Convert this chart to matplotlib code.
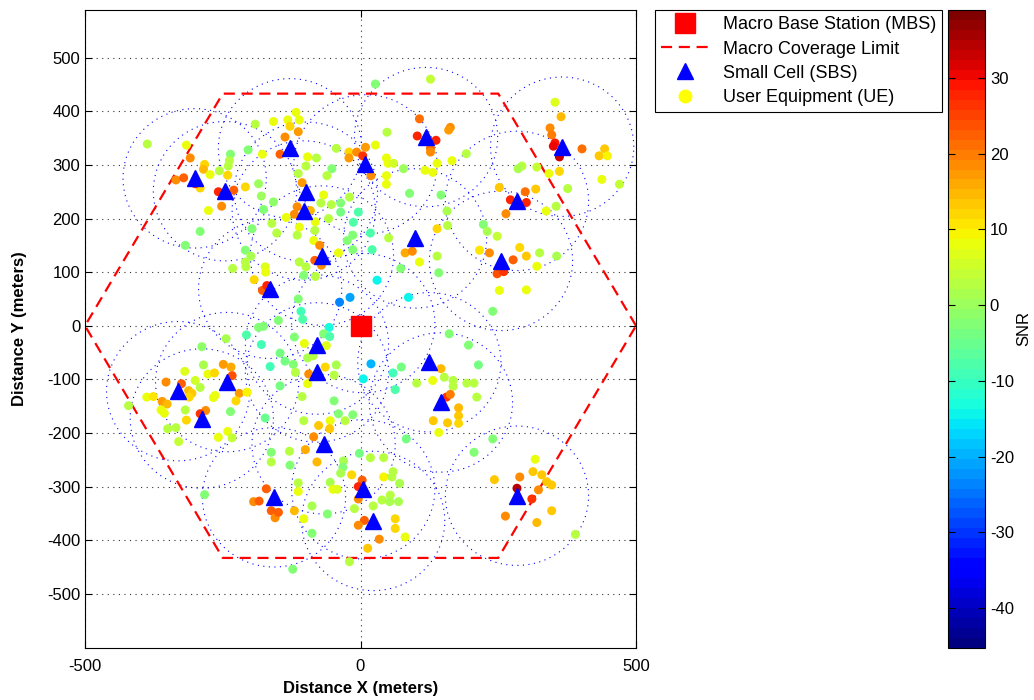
import numpy as np
import matplotlib.pyplot as plt
from matplotlib.lines import Line2D

plt.rcParams['font.family'] = ['Liberation Sans', 'DejaVu Sans']
plt.rcParams['axes.unicode_minus'] = False

# Small cell base stations (meters)
sbs_x = [-301, -246, -128, 9, 119, -99, -103, 366, 284, -164, -242, -331, -288,
         99, -70, -79, -79, 125, 146, -67, 5, 23, -157, 284, 255, 5]
sbs_y = [275, 251, 331, 301, 352, 250, 215, 334, 233, 69, -105, -122, -173,
         163, 131, -35, -87, -68, -143, -221, -305, -364, -320, -317, 121, 5]

# User equipment positions (meters) and SNR (dB)
ue_x = [-387, -316, -309, -283, -285, -273, -335, -321, -291, -300, -258, -230, -252, -276, -236, -238,
        -240, -256, -241, -209, -204, -191, -178, -185, -180, -176, -158, -291, -197, -161, -152, -158,
        27, 127, -132, -117, -111, -128, -113, -137, -146, -96, -80, -99, -44, -52, -61, -113, -106, -21,
        -21, -7, 9, 4, 27, 19, 48, 47, 50, 60, 47, 47, 78, 107, 103, 137, 127, 127, 163, 160, 139, 117,
        131, 166, 89, 146, 157, 158, -67, -72, -53, -36, -20, -36, -4, -13, -58, -82, -115, -91, -120,
        -135, -111, 139,
        353, 364, 344, 347, 353, 350, 361, 402, 443, 433, 448, 192, 293, 286, 320, 342, 361, 376, 438,
        470, 252, 299, 318, 272, 301, 264, 337, 355, 223,
        230, 248, 216, 234, 289, 301, 277, 325, 356, 320, 248, 260, 252, 301, 240, 196, 214, 193, 206,
        211, 178, 178, 178, 240,
        -318, -209, -199, -209, -208, -232, -173, -172, -193, -178, -170, -185, -176, -207, -180, -244,
        -288, -164, -285, -319, -277, -265, -249, -235, -233, -300, -291, -353, -325, -312, -306, -311,
        -264, -267, -220, -206, -226, -388, -376, -360, -351, -362, -356, -421, -318, -281, -291, -236,
        -316, -173, -350, -335, -241, -258,
        -330, -233, -162, -162, -283, -171, -194, -184, -162, -155,
        -85, 83, -100, -129, -128, -79, -2, 18, 42, -31, -32, -36, -16, 3, 42, 59, 57, 71, -55, -113,
        -113, -50, -42, -4, -4, 54, 39, 53, 69, 23, -88, -11, -149, -120, -60, -103, 7, -4, 63, 63,
        -88, 81, 34, 13, -20, -123,
        206, 317, 243, 289, 313, 329, 338, 347, 284, 323, 311, 347, 263, 320, 390,
        -115, -83, -85, -74, -83, -71, -40, -24, -14, -14, 18, 21, 51, -111, -99, -103, -82, 81, 94,
        107, 139, 142, 73, 30, -19, -38, 87, -113, -108, -105, -149, -57, -67, -56, -120, -102, -62,
        161, -146, -137, -122, -96, -86, -64, -44, -118, -94, -48, -96, -146, 19, 5, 74, 59, 63, 102,
        131, 146, 152, 168, 168, 156, 163, -106, -48, 132, 158, 142, -103, -76, -55, -40, -28, -14, -56]
ue_y = [339, 337, 313, 301, 292, 282, 272, 276, 257, 265, 250, 253, 223, 215, 320, 308,
        298, 289, 281, 259, 328, 376, 320, 265, 242, 217, 381, 176, 181, 191, 173, 231,
        451, 460, 384, 398, 384, 372, 362, 352, 320, 315, 313, 298, 331, 293, 280, 284, 267, 324,
        313, 324, 333, 317, 337, 280, 361, 313, 303, 303, 280, 264, 293, 386, 354, 346, 331, 324, 370,
        365, 303, 290, 286, 308, 247, 244, 214, 187, 244, 229, 226, 229, 240, 212, 212, 193, 200, 194,
        222, 215, 208, 202, 184, 181,
        417, 390, 369, 356, 341, 335, 315, 330, 330, 317, 317, 321, 298, 293, 296, 284, 288, 256, 273,
        264, 258, 250, 255, 235, 230, 209, 214, 223, 189,
        176, 167, 141, 136, 146, 130, 123, 136, 130, 111, 97, 101, 66, 67, 27, -36, -73, -107, -107,
        -133, -153, -168, -182, -211,
        150, 141, 130, 119, 110, 107, 110, 100, 86, 66, 75, -3, -1, -17, -35, -24,
        -39, -76, -73, -85, -90, -88, -72, -77, -93, -102, -115, -105, -108, -121, -126, -133,
        -130, -134, -126, -124, -140, -133, -132, -141, -146, -157, -163, -149, -157, -158, -164, -160,
        -176, -172, -192, -190, -197, -208,
        -216, -209, -236, -254, -315, -304, -328, -327, -345, -358,
        -207, -211, -231, -234, -260, -254, -238, -246, -246, -252, -264, -275, -278, -288, -282, -272,
        -282, -294, -292, -293, -309, -305, -305, -300, -323, -316, -325, -328, -328, -336, -336, -341,
        -348, -345, -351, -360, -363, -372, -360, -378, -387, -394, -398, -415, -440, -454,
        -236, -249, -287, -282, -272, -278, -291, -297, -303, -306, -323, -345, -355, -367, -389,
        169, 178, 159, 150, 122, 113, 136, 159, 169, 142, 173, 142, 164, 119, 110, 94, 92, 136, 139,
        119, 130, 99, 107, 85, 53, 44, 53, 50, 27, 12, 10, -3, -15, -20, -21, -33, -37,
        -15, -51, -66, -72, -60, -56, -77, -73, -87, -90, -92, -108, -112, -71, -99, -77, -88, -119, -107,
        -102, -80, -96, -102, -113, -133, -128, -132, -140, -177, -181, -199, -177, -186, -177, -164, -177,
        -166, -192]
ue_snr = [3, 8, 18, 12, 15, 8, 18, 23, 12, 28, 28, 23, 18, 8, -3, 3,
          3, 3, 12, 12, -3, 3, 8, 0, 0, -3, 8, -3, -3, 3, 3, -1,
          -3, 4, 8, 8, 8, 12, 17, 18, 23, 8, 3, 3, 3, -3, 3, 3, 17, 12,
          17, 18, 17, 27, 8, 19, 3, 8, 8, 6, 8, 8, 0, 21, 28, 28, 21, 18, 18,
          17, 8, 8, 8, 8, -3, -3, 1, 3, 8, 3, 3, -3, 3, -4, -8, -8, 3, 8,
          18, 15, 18, 8, 8, 12,
          7, 14, 18, 20, 29, 31, 33, 21, 13, 13, 10, 3, 3, 2, 4, 8, 12, 3, 8,
          4, 13, 21, 13, 28, 28, 18, 8, 3, -3,
          2, 4, 11, 18, 12, 13, 22, 3, 2, 8, 24, 27, 8, 8, -3, -3, -4, 3, 3,
          3, 15, 13, 12, -3,
          -3, -3, 2, 3, 3, 3, 7, 8, 12, 23, 28, -3, -3, -8, -9, 1,
          -1, -9, 2, 7, 8, 12, 17, 16, 24, 6, 3, 18, 23, 15, 13, 12,
          8, 8, 17, 9, 12, 8, 11, 17, 15, 8, 8, 3, 3, 18, 27, -3,
          12, -5, 3, 3, 8, 8,
          4, 4, -3, 3, -3, 23, 18, 23, 23, 19,
          18, -4, 16, 3, -3, 14, -4, 3, 3, 2, -3, 2, 12, 22, 9, 3,
          3, 2, 2, 3, 8, 8, 7, 28, 18, 3, 3, 2, 2, 3, 2, 3,
          23, 15, -3, 8, 23, 18, 12, 12, -3, 8, 18, 13, 3, -3,
          -3, 8, 13, 19, 13, 13, 13, 13, 35, 18, 27, 13, 19, 15, 3,
          3, 3, 8, 18, 22, 18, 8, -3, -3, -3, -8, -8, 3, 3, 3, -2, 3, 16, 18,
          8, 3, -2, -3, -15, -21, -23, -15, -3, -9, -8, -3, -13, -3, -8, -3, 8, 7,
          -2, -4, -4, -3, 2, 3, 12, 1, 3, 18, 3, 8, -4, -19, -14, -4, -9, -8, 3,
          8, 15, 3, 3, 3, 27, 20, 3, -3, 13, 13, 8, 3, 13, 8, -3, 3,
          -3, 13]

snr_min, snr_max = -45.3, 39.0
cell_radius = 130      # small cell coverage radius (m)
macro_radius = 500     # macro hexagon circumradius (m)

fig = plt.figure(figsize=(10.34, 7.0), dpi=100)
ax = fig.add_axes([85 / 1034, 52 / 700, 551 / 1034, 638 / 700])

# small cell coverage circles
theta = np.linspace(0, 2 * np.pi, 300)
for cx, cy in zip(sbs_x, sbs_y):
    ax.plot(cx + cell_radius * np.cos(theta), cy + cell_radius * np.sin(theta),
            color='blue', linestyle=(0, (1, 4)), linewidth=0.8, zorder=1)

# macro coverage hexagon
ang = np.deg2rad(np.arange(0, 361, 60))
ax.plot(macro_radius * np.cos(ang), macro_radius * np.sin(ang), color='red',
        linestyle=(0, (5, 3)), linewidth=1.6, zorder=2)

jet = plt.get_cmap('jet', 64)
sc = ax.scatter(ue_x, ue_y, c=ue_snr, cmap=jet, vmin=snr_min, vmax=snr_max,
                s=42, edgecolors='none', zorder=3)
ax.plot(sbs_x, sbs_y, '^', color='blue', markersize=11, zorder=4)
ax.plot(0, 0, 's', color='red', markersize=14, zorder=5)

ax.set_xlim(-500, 500)
ax.set_ylim(-601, 589)
ax.set_xticks([-500, 0, 500])
ax.set_yticks(np.arange(-500, 501, 100))
ax.grid(True, color='0.2', linestyle=(0, (1, 4)), linewidth=0.8)
ax.set_axisbelow(True)
ax.tick_params(direction='in', top=True, right=True, length=5, labelsize=12)
ax.tick_params(axis='x', pad=8)
ax.set_xlabel('Distance X (meters)', fontsize=12, fontweight='bold', labelpad=5)
ax.set_ylabel('Distance Y (meters)', fontsize=12, fontweight='bold', labelpad=14)

cax = fig.add_axes([948 / 1034, 52 / 700, 37 / 1034, 638 / 700])
cb = fig.colorbar(sc, cax=cax)
cb.set_ticks(np.arange(-40, 31, 10))
cax.tick_params(direction='in', left=True, right=True, length=5, labelsize=12)
cb.set_label('SNR', fontsize=12, labelpad=2)

handles = [
    Line2D([], [], marker='s', color='red', linestyle='none', markersize=14),
    Line2D([], [], color='red', linestyle=(0, (5, 3)), linewidth=1.6),
    Line2D([], [], marker='^', color='blue', linestyle='none', markersize=11),
    Line2D([], [], marker='o', color='yellow', linestyle='none', markersize=9),
]
labels = ['Macro Base Station (MBS)', 'Macro Coverage Limit',
          'Small Cell (SBS)', 'User Equipment (UE)']
leg = fig.legend(handles, labels, loc='upper left',
                 bbox_to_anchor=(655 / 1034, 1 - 10 / 700), fontsize=13,
                 frameon=True, fancybox=False, edgecolor='black', framealpha=1,
                 handlelength=2.6, labelspacing=0.4, borderpad=0.35,
                 borderaxespad=0)
leg.get_frame().set_linewidth(0.8)

fig.savefig('out.png', dpi=100)
